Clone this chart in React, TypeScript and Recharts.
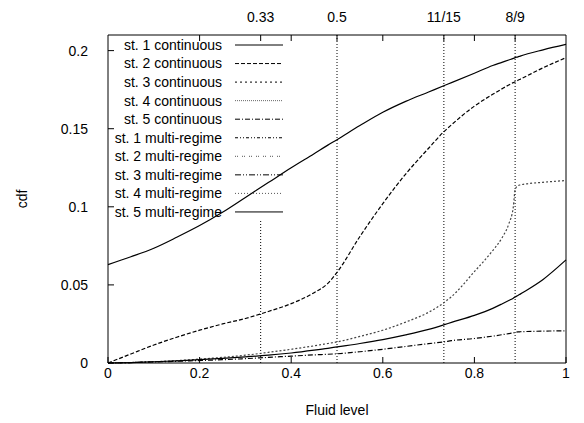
import { CartesianGrid, Legend, Line, LineChart, ReferenceLine, XAxis, YAxis } from "recharts";

const FONT = '"Liberation Sans", Arial, Helvetica, sans-serif';

// fluid level grid (extra points around the kinks at 0.5 and 8/9)
const fluidLevel = [
  0, 0.05, 0.1, 0.15, 0.2, 0.25, 0.3, 0.35, 0.4, 0.45, 0.48, 0.5, 0.55, 0.6, 0.65, 0.7, 0.733, 0.75, 0.8,
  0.84, 0.86, 0.875, 0.885, 0.889, 0.895, 0.9, 0.95, 1
];

const st1Continuous = [
  0.063, 0.068, 0.0735, 0.0805, 0.088, 0.0965, 0.106, 0.1155, 0.125, 0.134, 0.1395, 0.143, 0.152, 0.1605,
  0.1675, 0.1735, 0.1775, 0.1795, 0.1855, 0.1905, 0.1925, 0.194, 0.195, 0.1955, 0.196, 0.1965, 0.2005, 0.204
];
const st2Continuous = [
  0, 0.0058, 0.0115, 0.0165, 0.021, 0.025, 0.0285, 0.033, 0.038, 0.045, 0.051, 0.058, 0.081, 0.102, 0.121,
  0.1375, 0.148, 0.1525, 0.1645, 0.172, 0.1755, 0.178, 0.1795, 0.18, 0.181, 0.1817, 0.189, 0.1955
];
const st3Continuous = [
  0, 0.0003, 0.0008, 0.0015, 0.0025, 0.0036, 0.005, 0.0068, 0.0088, 0.011, 0.0125, 0.0135, 0.017, 0.021,
  0.0262, 0.0325, 0.0385, 0.0425, 0.0585, 0.072, 0.08, 0.089, 0.1, 0.111, 0.1135, 0.114, 0.1157, 0.1168
];
const st5Continuous = [
  0, 0.0003, 0.0007, 0.0011, 0.0016, 0.0021, 0.0028, 0.0036, 0.0044, 0.0052, 0.0056, 0.0059, 0.0072, 0.0088,
  0.0106, 0.0124, 0.0135, 0.0143, 0.0157, 0.0172, 0.0181, 0.0188, 0.0193, 0.0196, 0.0199, 0.02, 0.0204, 0.0206
];
const st5MultiRegime = [
  0, 0.0003, 0.0008, 0.0014, 0.0022, 0.003, 0.0039, 0.005, 0.0064, 0.0082, 0.0094, 0.0103, 0.0125, 0.015,
  0.018, 0.0215, 0.0244, 0.026, 0.0305, 0.035, 0.0378, 0.04, 0.0415, 0.0423, 0.0432, 0.0441, 0.0535, 0.066
];

const xTicks = [0, 0.2, 0.4, 0.6, 0.8, 1];
const yTicks = [0, 0.05, 0.1, 0.15, 0.2];
const markerValues = [1 / 3, 0.5, 11 / 15, 8 / 9];
const markerLabels = ["0.33", "0.5", "11/15", "8/9"];
const firstMarkerTop = 0.092;

const legendNames = [
  "st. 1 continuous",
  "st. 2 continuous",
  "st. 3 continuous",
  "st. 4 continuous",
  "st. 5 continuous",
  "st. 1 multi-regime",
  "st. 2 multi-regime",
  "st. 3 multi-regime",
  "st. 4 multi-regime",
  "st. 5 multi-regime"
];
const legendDashes = [
  "",
  "4 2",
  "2 3",
  "1 1",
  "5 2 1 2",
  "3 2 1 2 1 2",
  "1 1 1 4",
  "6 2 1 2 1 2",
  "1 2",
  ""
];
const legendColors = ["#000", "#000", "#000", "#666", "#000", "#000", "#555", "#000", "#555", "#000"];

const data = fluidLevel.map((x, i) => ({
  x,
  s1: st1Continuous[i],
  s2: st2Continuous[i],
  s3: st3Continuous[i],
  s5: st5Continuous[i],
  m5: st5MultiRegime[i]
}));

const topTicks = [0.2, 0.4, 0.6, 0.8, ...markerValues].sort((a, b) => a - b);
const topLabel = (v: number) => {
  const i = markerValues.indexOf(v);
  return i >= 0 ? markerLabels[i] : "";
};

const tick = { fill: "#000", fontSize: 14, fontFamily: FONT };

function KeyBox() {
  return (
    <svg width={300} height={230} style={{ display: "block" }}>
      {legendNames.map((name, i) => {
        const y = 45 + i * 18.55;
        return (
          <g key={name}>
            <text x={222} y={y} dy="0.35em" textAnchor="end" fontSize={14} fontFamily={FONT} fill="#000">
              {name}
            </text>
            <line
              x1={235}
              x2={283}
              y1={y}
              y2={y}
              stroke={legendColors[i]}
              strokeWidth={1}
              strokeDasharray={legendDashes[i] || undefined}
            />
          </g>
        );
      })}
    </svg>
  );
}

export default function App() {
  return (
    <div style={{ position: "absolute", left: 0, top: 0, background: "#fff" }}>
      <LineChart
        width={584}
        height={423}
        data={data}
        margin={{ top: 0, right: 9, bottom: 0, left: 0 }}
        style={{ fontFamily: FONT }}
      >
        <CartesianGrid stroke="none" />
        <XAxis
          dataKey="x"
          type="number"
          domain={[0, 1]}
          ticks={xTicks}
          tickFormatter={(v) => String(v)}
          height={60}
          tick={tick}
          tickSize={-6}
          tickMargin={11}
          stroke="#000"
          label={{ value: "Fluid level", position: "insideBottom", offset: 8, fill: "#000", fontSize: 14 }}
        />
        <XAxis
          xAxisId="top"
          orientation="top"
          dataKey="x"
          type="number"
          domain={[0, 1]}
          ticks={topTicks}
          tickFormatter={topLabel}
          height={35}
          tick={tick}
          tickSize={-6}
          tickMargin={19}
          stroke="#000"
          interval={0}
        />
        <YAxis
          type="number"
          domain={[0, 0.21]}
          ticks={yTicks}
          tickFormatter={(v) => String(v)}
          width={108}
          tick={tick}
          tickSize={-6}
          tickMargin={26}
          stroke="#000"
          interval={0}
          label={{
            content: ({ viewBox }: any) => (
              <text
                x={viewBox.x + 22}
                y={viewBox.y + viewBox.height / 2}
                transform={`rotate(-90 ${viewBox.x + 22} ${viewBox.y + viewBox.height / 2})`}
                textAnchor="middle"
                dy="0.35em"
                fontSize={14}
                fontFamily={FONT}
                fill="#000"
              >
                cdf
              </text>
            )
          }}
        />
        <YAxis
          yAxisId="right"
          orientation="right"
          type="number"
          domain={[0, 0.21]}
          ticks={yTicks}
          tickFormatter={() => ""}
          width={9}
          tickSize={-6}
          stroke="#000"
          interval={0}
        />
        {markerValues.map((v, i) =>
          i === 0 ? (
            <ReferenceLine
              key={v}
              segment={[
                { x: v, y: 0 },
                { x: v, y: firstMarkerTop }
              ]}
              stroke="#000"
              strokeDasharray="1 2"
            />
          ) : (
            <ReferenceLine key={v} x={v} stroke="#000" strokeDasharray="1 2" />
          )
        )}
        <Legend
          layout="vertical"
          align="center"
          verticalAlign="middle"
          content={() => <KeyBox />}
          wrapperStyle={{ left: 0, top: 0, width: 300, height: 230 }}
        />
        <Line dataKey="s1" type="monotone" stroke="#000" strokeWidth={1.2} dot={false} isAnimationActive={false} />
        <Line
          dataKey="s2"
          type="monotone"
          stroke="#000"
          strokeWidth={1.2}
          strokeDasharray="4 2"
          dot={false}
          isAnimationActive={false}
        />
        <Line
          dataKey="s3"
          type="monotone"
          stroke="#444"
          strokeWidth={1.2}
          strokeDasharray="2 2"
          dot={false}
          isAnimationActive={false}
        />
        <Line
          dataKey="s5"
          type="monotone"
          stroke="#000"
          strokeWidth={1.2}
          strokeDasharray="5 2 1 2"
          dot={false}
          isAnimationActive={false}
        />
        <Line dataKey="m5" type="monotone" stroke="#000" strokeWidth={1.2} dot={false} isAnimationActive={false} />
      </LineChart>
    </div>
  );
}
